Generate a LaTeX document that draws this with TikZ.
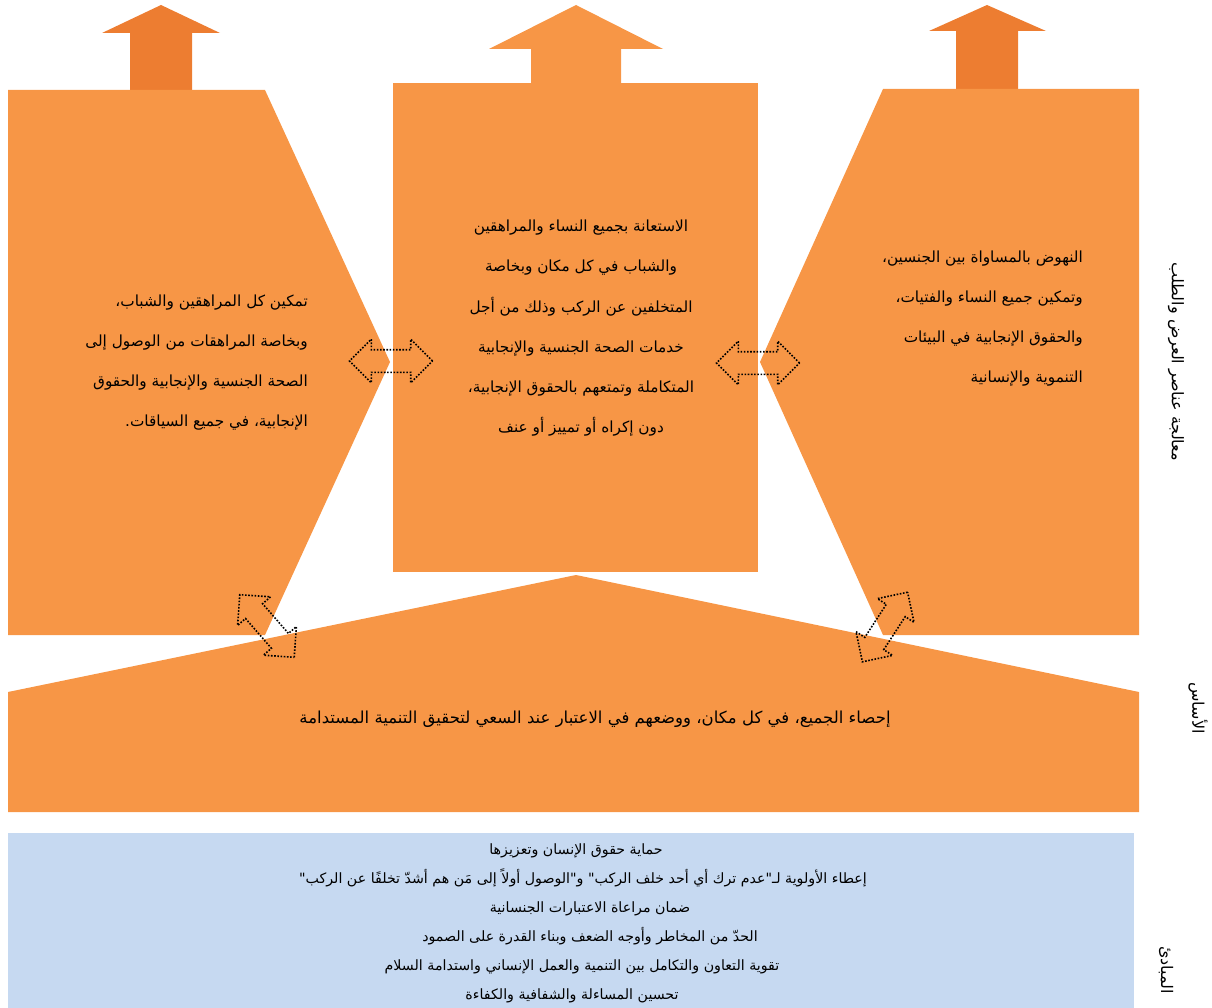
\documentclass[tikz,border=0pt]{standalone}
\usepackage{fontspec}
\usetikzlibrary{shapes.arrows}
\TeXXeTstate=1
\newfontfamily\arabicfont[Script=Arabic]{DejaVu Sans}
\definecolor{lor}{RGB}{247,150,70}
\definecolor{dor}{RGB}{237,125,49}
\definecolor{lblue}{RGB}{198,217,241}
\newcommand{\ar}[1]{\beginR #1\endR}
\begin{document}
\begin{tikzpicture}[x=1pt,y=-1pt,
  panel/.style={fill=lor,draw=none},
  darkup/.style={fill=dor,draw=none},
  dblarrow/.style={double arrow,draw=black,line width=1.6pt,
    dash pattern=on 1.6pt off 1.6pt,minimum height=83pt,minimum width=42pt,
    double arrow head extend=10.5pt,inner xsep=0pt,inner ysep=10.5pt,fill=none},
  boxtext/.style={font=\arabicfont\fontsize{15.3}{18}\selectfont,inner sep=0pt},
  basetext/.style={font=\arabicfont\fontsize{16.5}{19}\selectfont,inner sep=0pt},
  princ/.style={font=\arabicfont\fontsize{14.2}{16}\selectfont,inner sep=0pt,anchor=base},
  sidelabel/.style={font=\arabicfont\fontsize{16}{18}\selectfont,inner sep=0pt,rotate=-90}]
\useasboundingbox (0,0) rectangle (1212,1008);
% upward arrows
\fill[darkup] (130,91) -- (130,33) -- (102,33) -- (161,5) -- (220,33) -- (192,33) -- (192,91) -- cycle;
\fill[panel] (531,84) -- (531,49) -- (489,49) -- (576,5) -- (663,49) -- (621,49) -- (621,84) -- cycle;
\fill[darkup] (956,90) -- (956,31) -- (929,31) -- (987,5) -- (1046,31) -- (1018,31) -- (1018,90) -- cycle;
% panels
\fill[panel] (8,90) -- (265,90) -- (390,362) -- (265,635) -- (8,635) -- cycle;
\fill[panel] (393,83) rectangle (758,572);
\fill[panel] (883,89) -- (1139,89) -- (1139,635) -- (883,635) -- (760,362) -- cycle;
\fill[panel] (8,692) -- (576,575) -- (1139,692) -- (1139,812) -- (8,812) -- cycle;
\fill[lblue] (8,833) rectangle (1134,1008);
% left text
\node[boxtext,anchor=base east] (l1) at (308,306) {\ar{تمكين كل المراهقين والشباب،}};
\node[boxtext,anchor=base east] (l2) at (308,346) {\ar{وبخاصة المراهقات من الوصول إلى}};
\node[boxtext,anchor=base east] (l3) at (308,386) {\ar{الصحة الجنسية والإنجابية والحقوق}};
\node[boxtext,anchor=base east] (l4) at (308,426) {\ar{الإنجابية، في جميع السياقات.}};
% middle text
\node[boxtext,anchor=base] (m1) at (581,232) {\ar{الاستعانة بجميع النساء والمراهقين}};
\node[boxtext,anchor=base] (m2) at (581,272) {\ar{والشباب في كل مكان وبخاصة}};
\node[boxtext,anchor=base] (m3) at (581,312) {\ar{المتخلفين عن الركب وذلك من أجل}};
\node[boxtext,anchor=base] (m4) at (581,352) {\ar{خدمات الصحة الجنسية والإنجابية}};
\node[boxtext,anchor=base] (m5) at (581,392) {\ar{المتكاملة وتمتعهم بالحقوق الإنجابية،}};
\node[boxtext,anchor=base] (m6) at (581,432) {\ar{دون إكراه أو تمييز أو عنف}};
% right text
\node[boxtext,anchor=base east] (r1) at (1083,262) {\ar{النهوض بالمساواة بين الجنسين،}};
\node[boxtext,anchor=base east] (r2) at (1083,302) {\ar{وتمكين جميع النساء والفتيات،}};
\node[boxtext,anchor=base east] (r3) at (1083,342) {\ar{والحقوق الإنجابية في البيئات}};
\node[boxtext,anchor=base east] (r4) at (1083,382) {\ar{التنموية والإنسانية}};
% base text
\node[basetext,anchor=base] (b1) at (595,723) {\ar{إحصاء الجميع، في كل مكان، ووضعهم في الاعتبار عند السعي لتحقيق التنمية المستدامة}};
% principles
\node[princ] (p1) at (576,854) {\ar{حماية حقوق الإنسان وتعزيزها}};
\node[princ] (p2) at (583,883) {\ar{إعطاء الأولوية لـ"عدم ترك أي أحد خلف الركب" و"الوصول أولاً إلى مَن هم أشدّ تخلفًا عن الركب"}};
\node[princ] (p3) at (590,912) {\ar{ضمان مراعاة الاعتبارات الجنسانية}};
\node[princ] (p4) at (590,941) {\ar{الحدّ من المخاطر وأوجه الضعف وبناء القدرة على الصمود}};
\node[princ] (p5) at (582,970) {\ar{تقوية التعاون والتكامل بين التنمية والعمل الإنساني واستدامة السلام}};
\node[princ] (p6) at (572,999) {\ar{تحسين المساءلة والشفافية والكفاءة}};
% side labels
\node[sidelabel] (s1) at (1176,362) {\ar{معالجة عناصر العرض والطلب}};
\node[sidelabel] (s2) at (1198,708) {\ar{الأساس}};
\node[sidelabel] (s3) at (1166,970) {\ar{المبادئ}};
% dotted double arrows
\node[dblarrow] (a1) at (391,361) {};
\node[dblarrow] (a2) at (758,363) {};
\node[dblarrow,rotate=-49] (a3) at (267,626) {};
\node[dblarrow,rotate=57] (a4) at (885,627) {};
\end{tikzpicture}
\end{document}
